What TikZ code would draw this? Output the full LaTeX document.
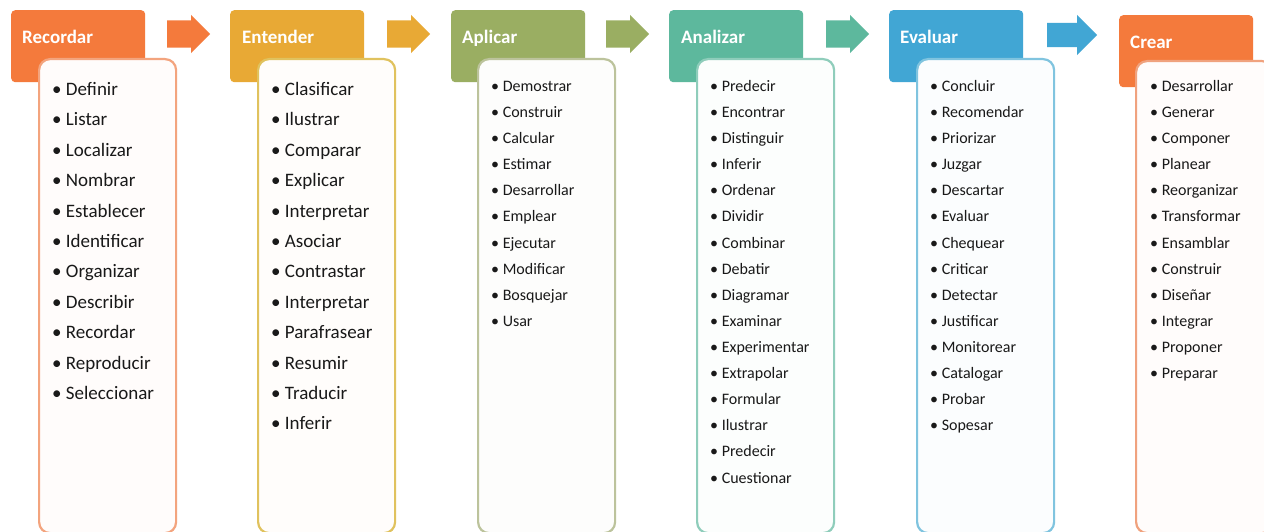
\documentclass[tikz,border=0pt]{standalone}
\usepackage{fontspec}
\setmainfont{Carlito}
\usetikzlibrary{shapes.arrows}
\definecolor{cRec}{HTML}{F47A3C}
\definecolor{bRec}{HTML}{F3A47E}
\definecolor{cEnt}{HTML}{E8A935}
\definecolor{bEnt}{HTML}{E0C25E}
\definecolor{cApl}{HTML}{9AAE62}
\definecolor{bApl}{HTML}{BCC39C}
\definecolor{cAna}{HTML}{5DB89D}
\definecolor{bAna}{HTML}{8FCDBB}
\definecolor{cEva}{HTML}{41A6D4}
\definecolor{bEva}{HTML}{80C4DF}
\definecolor{cCre}{HTML}{F47A3C}
\definecolor{bCre}{HTML}{F0A27E}
\tikzset{
  hdr/.style={anchor=north west, rounded corners=4pt, minimum width=134pt, minimum height=72pt, inner sep=0pt},
  lst/.style={anchor=north west, rounded corners=11pt, line width=2.2pt, minimum width=137pt, minimum height=474pt, inner sep=0pt},
  htxt/.style={anchor=base west, text=white, font=\fontsize{19}{22}\selectfont\bfseries, inner sep=0pt},
  itemA/.style={anchor=base west, font=\fontsize{19}{22}\selectfont, inner sep=0pt, text=black!90},
  itemB/.style={anchor=base west, font=\fontsize{16}{19}\selectfont, inner sep=0pt, text=black!90},
  blk/.style={single arrow, inner xsep=0pt, minimum height=43pt, single arrow head extend=5.5pt, inner ysep=13.5pt, anchor=tail}
}
\begin{document}
\begin{tikzpicture}[x=1pt,y=-1pt]
\useasboundingbox (0,0) rectangle (1264,532);
\fill[white] (0,0) rectangle (1264,532);
% Recordar
\node[hdr, fill=cRec] (h1) at (11,10) {};
\node[lst, draw=bRec, fill=white!98!cRec] (l1) at (38,58) {};
\node[htxt] (t1) at (22,43.5) {Recordar};
\foreach \w [count=\i from 0] in {Definir,Listar,Localizar,Nombrar,Establecer,Identificar,Organizar,Describir,Recordar,Reproducir,Seleccionar}
  \node[itemA] (a\i) at (52,{95.5+30.4*\i}) {\textbullet\ \w};
% Entender
\node[hdr, fill=cEnt] (h2) at (230,10) {};
\node[lst, draw=bEnt, fill=white!98!cEnt] (l2) at (257,58) {};
\node[htxt] (t2) at (242,43.5) {Entender};
\foreach \w [count=\i from 0] in {Clasificar,Ilustrar,Comparar,Explicar,Interpretar,Asociar,Contrastar,Interpretar,Parafrasear,Resumir,Traducir,Inferir}
  \node[itemA] (b\i) at (271,{95.5+30.4*\i}) {\textbullet\ \w};
% Aplicar
\node[hdr, fill=cApl] (h3) at (451,10) {};
\node[lst, draw=bApl, fill=white!98!cApl] (l3) at (477,58) {};
\node[htxt] (t3) at (462,43.5) {Aplicar};
\foreach \w [count=\i from 0] in {Demostrar,Construir,Calcular,Estimar,Desarrollar,Emplear,Ejecutar,Modificar,Bosquejar,Usar}
  \node[itemB] (c\i) at (491,{91.5+26.1*\i}) {\textbullet\ \w};
% Analizar
\node[hdr, fill=cAna] (h4) at (669,10) {};
\node[lst, draw=bAna, fill=white!98!cAna] (l4) at (696,58) {};
\node[htxt] (t4) at (681,43.5) {Analizar};
\foreach \w [count=\i from 0] in {Predecir,Encontrar,Distinguir,Inferir,Ordenar,Dividir,Combinar,Debatir,Diagramar,Examinar,Experimentar,Extrapolar,Formular,Ilustrar,Predecir,Cuestionar}
  \node[itemB] (d\i) at (710,{91.5+26.1*\i}) {\textbullet\ \w};
% Evaluar
\node[hdr, fill=cEva] (h5) at (889,10) {};
\node[lst, draw=bEva, fill=white!98!cEva] (l5) at (916,58) {};
\node[htxt] (t5) at (900,43.5) {Evaluar};
\foreach \w [count=\i from 0] in {Concluir,Recomendar,Priorizar,Juzgar,Descartar,Evaluar,Chequear,Criticar,Detectar,Justificar,Monitorear,Catalogar,Probar,Sopesar}
  \node[itemB] (e\i) at (930,{91.5+26.1*\i}) {\textbullet\ \w};
% Crear
\node[hdr, fill=cCre] (h6) at (1119,15) {};
\node[lst, draw=bCre, fill=white!98!cCre, minimum height=472pt] (l6) at (1135,60) {};
\node[htxt] (t6) at (1130,48.5) {Crear};
\foreach \w [count=\i from 0] in {Desarrollar,Generar,Componer,Planear,Reorganizar,Transformar,Ensamblar,Construir,Diseñar,Integrar,Proponer,Preparar}
  \node[itemB] (f\i) at (1150,{91.5+26.1*\i}) {\textbullet\ \w};
% block arrows
\node[blk, fill=cRec] (ar1) at (167,34) {};
\node[blk, fill=cEnt] (ar2) at (387,34) {};
\node[blk, fill=cApl] (ar3) at (606,34) {};
\node[blk, fill=cAna] (ar4) at (826,34) {};
\node[blk, fill=cEva, minimum height=50pt, inner ysep=12pt, single arrow head extend=8pt] (ar5) at (1047,35) {};
\end{tikzpicture}
\end{document}
